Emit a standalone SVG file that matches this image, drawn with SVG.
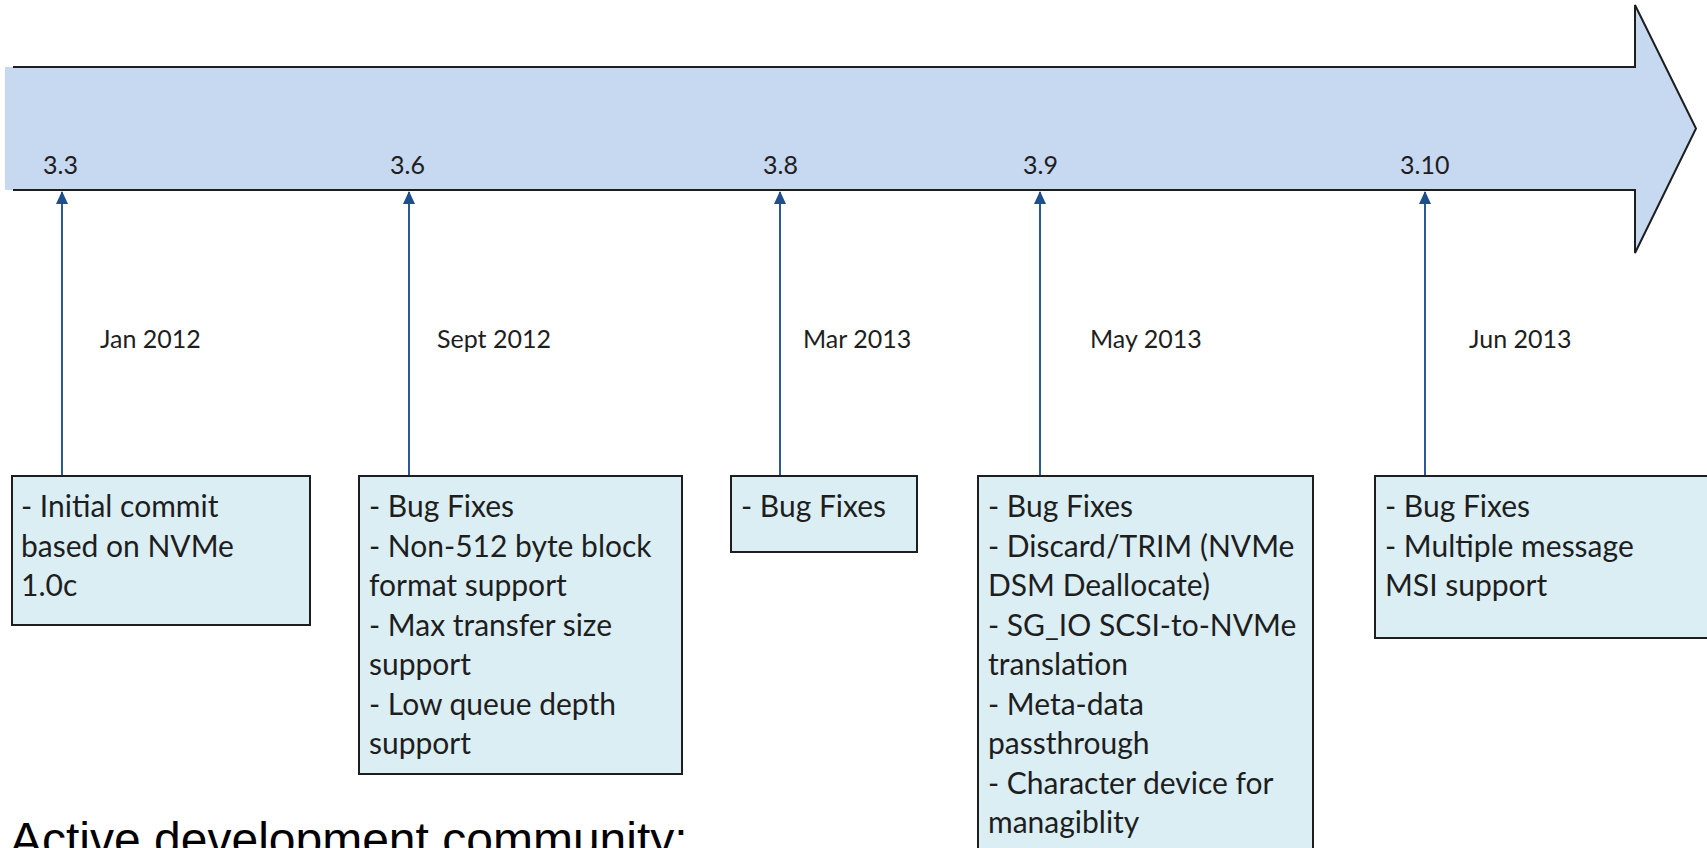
<svg xmlns="http://www.w3.org/2000/svg" width="1707" height="848" viewBox="0 0 1707 848">
  <style>
    .bar-fill { fill: #c6d9f0; }
    .bar-edge { fill: none; stroke: #1e1e1e; stroke-width: 2; stroke-linejoin: miter; }
    .box { fill: #dbeef4; stroke: #1e1e1e; stroke-width: 2; }
    .ver { font-family: Lato, "Open Sans", sans-serif; font-size: 25px; fill: #1e1e1e; }
    .date { font-family: Lato, "Open Sans", sans-serif; font-size: 25px; fill: #1e1e1e; }
    .item { font-family: Lato, "Open Sans", sans-serif; font-size: 30px; fill: #1e1e1e; }
    .link { stroke: #2c5a96; stroke-width: 2; fill: none; }
    .title { font-family: "Liberation Sans", Arial, sans-serif; font-size: 48px; fill: #000; }
  </style>
  <defs>
    <marker id="tip" viewBox="0 0 13 12" refX="12" refY="6" markerWidth="13" markerHeight="12" markerUnits="userSpaceOnUse" orient="auto">
      <path d="M0,0 L13,6 L0,12 z" fill="#1f4e8c"/>
    </marker>
  </defs>

  <!-- timeline arrow -->
  <g id="timeline">
    <polygon class="bar-fill" points="5,67 1635,67 1635,5 1696,128.5 1635,253 1635,190 5,190"/>
    <path class="bar-edge" d="M13,67 H1635 V5 L1696,128.5 L1635,253 V190 H13"/>
    <text class="ver" x="43" y="174">3.3</text>
    <text class="ver" x="390" y="174">3.6</text>
    <text class="ver" x="763" y="174">3.8</text>
    <text class="ver" x="1023" y="174">3.9</text>
    <text class="ver" x="1400" y="174">3.10</text>
  </g>

  <!-- release pointers -->
  <g id="connectors">
    <line class="link" x1="62" y1="476" x2="62" y2="192" marker-end="url(#tip)"/>
    <line class="link" x1="409" y1="476" x2="409" y2="192" marker-end="url(#tip)"/>
    <line class="link" x1="780" y1="476" x2="780" y2="192" marker-end="url(#tip)"/>
    <line class="link" x1="1040" y1="476" x2="1040" y2="192" marker-end="url(#tip)"/>
    <line class="link" x1="1425" y1="476" x2="1425" y2="192" marker-end="url(#tip)"/>
    <text class="date" x="100" y="348">Jan 2012</text>
    <text class="date" x="437" y="348">Sept 2012</text>
    <text class="date" x="803" y="348">Mar 2013</text>
    <text class="date" x="1090" y="348">May 2013</text>
    <text class="date" x="1469" y="348">Jun 2013</text>
  </g>

  <!-- release notes -->
  <g id="r33">
    <rect class="box" x="12" y="476" width="298" height="149"/>
    <text class="item" x="21" y="517">- Initial commit</text>
    <text class="item" x="21" y="556.5">based on NVMe</text>
    <text class="item" x="21" y="596">1.0c</text>
  </g>
  <g id="r36">
    <rect class="box" x="359" y="476" width="323" height="298"/>
    <text class="item" x="369" y="517">- Bug Fixes</text>
    <text class="item" x="369" y="556.5">- Non-512 byte block</text>
    <text class="item" x="369" y="596">format support</text>
    <text class="item" x="369" y="635.5">- Max transfer size</text>
    <text class="item" x="369" y="675">support</text>
    <text class="item" x="369" y="714.5">- Low queue depth</text>
    <text class="item" x="369" y="754">support</text>
  </g>
  <g id="r38">
    <rect class="box" x="731" y="476" width="186" height="76"/>
    <text class="item" x="741" y="517">- Bug Fixes</text>
  </g>
  <g id="r39">
    <rect class="box" x="978" y="476" width="335" height="390"/>
    <text class="item" x="988" y="517">- Bug Fixes</text>
    <text class="item" x="988" y="556.5">- Discard/TRIM (NVMe</text>
    <text class="item" x="988" y="596">DSM Deallocate)</text>
    <text class="item" x="988" y="635.5">- SG_IO SCSI-to-NVMe</text>
    <text class="item" x="988" y="675">translation</text>
    <text class="item" x="988" y="714.5">- Meta-data</text>
    <text class="item" x="988" y="754">passthrough</text>
    <text class="item" x="988" y="793.5">- Character device for</text>
    <text class="item" x="988" y="833">managiblity</text>
  </g>
  <g id="r310">
    <rect class="box" x="1375" y="476" width="345" height="162"/>
    <text class="item" x="1385" y="517">- Bug Fixes</text>
    <text class="item" x="1385" y="556.5">- Multiple message</text>
    <text class="item" x="1385" y="596">MSI support</text>
  </g>

  <text class="title" x="10" y="856">Active development community:</text>
</svg>
